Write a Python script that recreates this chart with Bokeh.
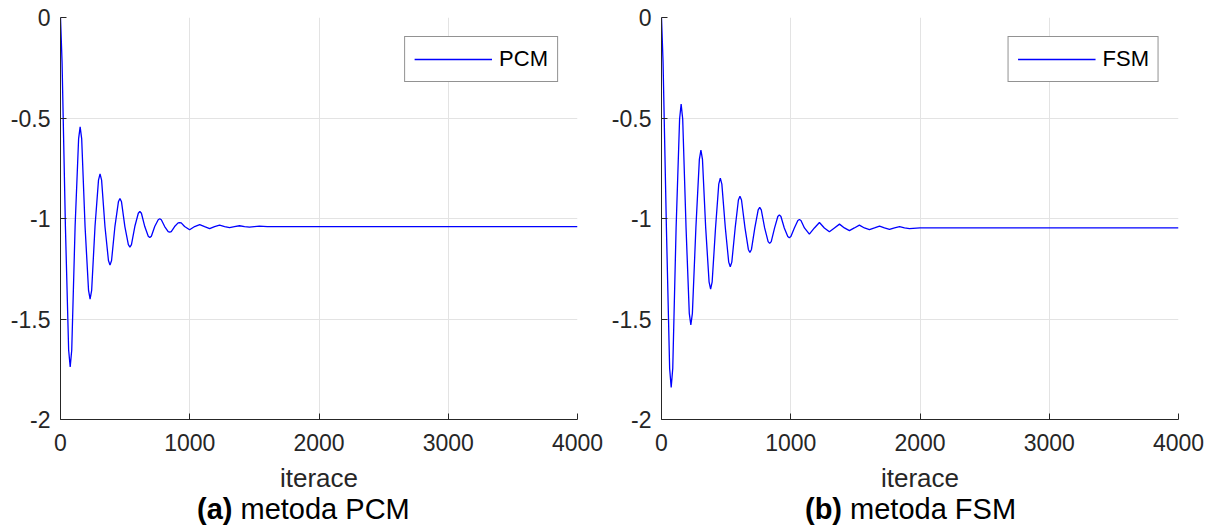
from bokeh.plotting import figure
from bokeh.models import Range1d, Legend, LegendItem, FixedTicker, Div
from bokeh.layouts import row, column
from bokeh.embed import file_html
from bokeh.resources import INLINE

# ---- data ----
x_ticks = [0, 1000, 2000, 3000, 4000]
y_ticks = [-2, -1.5, -1, -0.5, 0]
y_tick_labels = {-2: "-2", -1.5: "-1.5", -1: "-1", -0.5: "-0.5", 0: "0"}

pcm_iter = [0, 12, 38, 63, 75, 87, 113, 140, 152, 164, 190, 217, 229, 241, 267, 294, 306, 318,
            344, 371, 383, 395, 421, 448, 460, 472, 498, 525, 537, 549, 575, 602, 614, 626,
            652, 679, 691, 703, 729, 756, 768, 780, 806, 833, 845, 857, 883, 910, 922, 934,
            960, 999, 1038, 1077, 1115, 1154, 1192, 1231, 1270, 1308, 1346, 1385, 1424, 1462,
            1500, 1539, 1600, 2000, 3000, 4000]
pcm_val = [0.0, -0.22, -1.04, -1.654, -1.738, -1.654, -1.04, -0.604, -0.544, -0.604, -1.04,
           -1.358, -1.401, -1.358, -1.04, -0.809, -0.778, -0.809, -1.04, -1.209, -1.232, -1.209,
           -1.04, -0.917, -0.900, -0.917, -1.04, -1.130, -1.142, -1.130, -1.04, -0.974, -0.965,
           -0.974, -1.04, -1.088, -1.095, -1.088, -1.04, -1.006, -1.001, -1.006, -1.04, -1.065,
           -1.068, -1.065, -1.04, -1.022, -1.020, -1.022, -1.04, -1.056, -1.04, -1.030, -1.04,
           -1.050, -1.04, -1.033, -1.04, -1.045, -1.04, -1.036, -1.04, -1.043, -1.04, -1.038,
           -1.040, -1.040, -1.040, -1.040]

fsm_iter = [0, 12, 38, 63, 75, 87, 113, 140, 152, 164, 190, 215, 227, 239, 266, 293, 305, 317,
            342, 368, 380, 392, 418, 443, 455, 467, 494, 520, 532, 544, 570, 595, 607, 619,
            646, 672, 684, 696, 722, 748, 760, 772, 798, 825, 837, 849, 875, 900, 912, 924,
            950, 977, 989, 1001, 1028, 1055, 1067, 1079, 1106, 1144, 1183, 1222, 1260, 1299,
            1338, 1377, 1415, 1454, 1492, 1531, 1570, 1609, 1648, 1687, 1725, 1764, 1803, 1842,
            1880, 1919, 2000, 3000, 4000]
fsm_val = [0.0, -0.22, -1.047, -1.746, -1.841, -1.746, -1.047, -0.505, -0.431, -0.505, -1.047,
           -1.472, -1.530, -1.472, -1.047, -0.706, -0.660, -0.706, -1.047, -1.315, -1.351, -1.315,
           -1.047, -0.829, -0.799, -0.829, -1.047, -1.217, -1.240, -1.217, -1.047, -0.908, -0.889,
           -0.908, -1.047, -1.154, -1.169, -1.154, -1.047, -0.957, -0.945, -0.957, -1.047, -1.115,
           -1.124, -1.115, -1.047, -0.990, -0.982, -0.990, -1.047, -1.090, -1.096, -1.090, -1.047,
           -1.010, -1.005, -1.010, -1.047, -1.078, -1.047, -1.020, -1.047, -1.066, -1.047, -1.028,
           -1.047, -1.060, -1.047, -1.033, -1.047, -1.055, -1.047, -1.038, -1.047, -1.054, -1.047,
           -1.041, -1.047, -1.050, -1.047, -1.047, -1.047]

FONT = "Liberation Sans"
AX = "#262626"
CAP_H = 26


def make_panel(xs, ys, name, width, bl, br):
    p = figure(width=width, height=526 - CAP_H, output_backend="svg", toolbar_location=None,
               x_range=Range1d(0, 4000), y_range=Range1d(-2, 0),
               min_border_left=bl, min_border_right=br, min_border_top=17,
               min_border_bottom=526 - CAP_H - 419)
    p.outline_line_color = None

    r = p.line(xs, ys, line_color="#0000ff", line_width=1.3)

    for ax in (p.xaxis[0], p.yaxis[0]):
        ax.axis_line_color = AX
        ax.major_tick_line_color = AX
        ax.major_tick_in = 6
        ax.major_tick_out = 0
        ax.minor_tick_line_color = None
        ax.major_label_text_font = FONT
        ax.major_label_text_font_size = "23px"
        ax.major_label_text_color = AX
    p.xaxis.ticker = FixedTicker(ticks=x_ticks)
    p.yaxis.ticker = FixedTicker(ticks=y_ticks)
    p.yaxis.major_label_overrides = y_tick_labels
    p.xaxis.major_label_standoff = 14
    p.yaxis.major_label_standoff = 10
    p.xaxis.axis_label = "iterace"
    p.xaxis.axis_label_text_font = FONT
    p.xaxis.axis_label_text_font_style = "normal"
    p.xaxis.axis_label_text_font_size = "26px"
    p.xaxis.axis_label_text_color = AX
    p.xaxis.axis_label_standoff = 9

    p.xgrid.ticker = FixedTicker(ticks=x_ticks)
    p.ygrid.ticker = FixedTicker(ticks=y_ticks)
    p.grid.grid_line_color = "#e3e3e3"
    p.grid.grid_line_width = 1

    legend = Legend(items=[LegendItem(label=name, renderers=[r])], location="top_right",
                    margin=19, padding=9, label_standoff=7, glyph_width=78, glyph_height=20,
                    label_text_font=FONT, label_text_font_size="22px", label_text_color="black",
                    border_line_color=AX, border_line_width=1, background_fill_alpha=1)
    p.add_layout(legend)
    return p


def make_caption(width, tag, caption, pad_left):
    html = '<span style="position:relative; top:-4px"><b>%s</b> %s</span>' % (tag, caption)
    return Div(text=html, width=width, height=CAP_H, margin=(0, 0, 0, 0),
               styles={"font-family": FONT, "font-size": "29px", "line-height": "26px",
                       "color": "black", "white-space": "nowrap", "overflow": "visible",
                       "padding-left": "%dpx" % pad_left, "box-sizing": "border-box"})


left = make_panel(pcm_iter, pcm_val, "PCM", 605, 60, 28)
right = make_panel(fsm_iter, fsm_val, "FSM", 606, 56, 33)
left_cap = make_caption(605, "(a)", "metoda PCM", 197)
right_cap = make_caption(606, "(b)", "metoda FSM", 200)

layout = row(column(left, left_cap, spacing=0), column(right, right_cap, spacing=0), spacing=0)
open("out.html", "w").write(file_html(layout, INLINE))
